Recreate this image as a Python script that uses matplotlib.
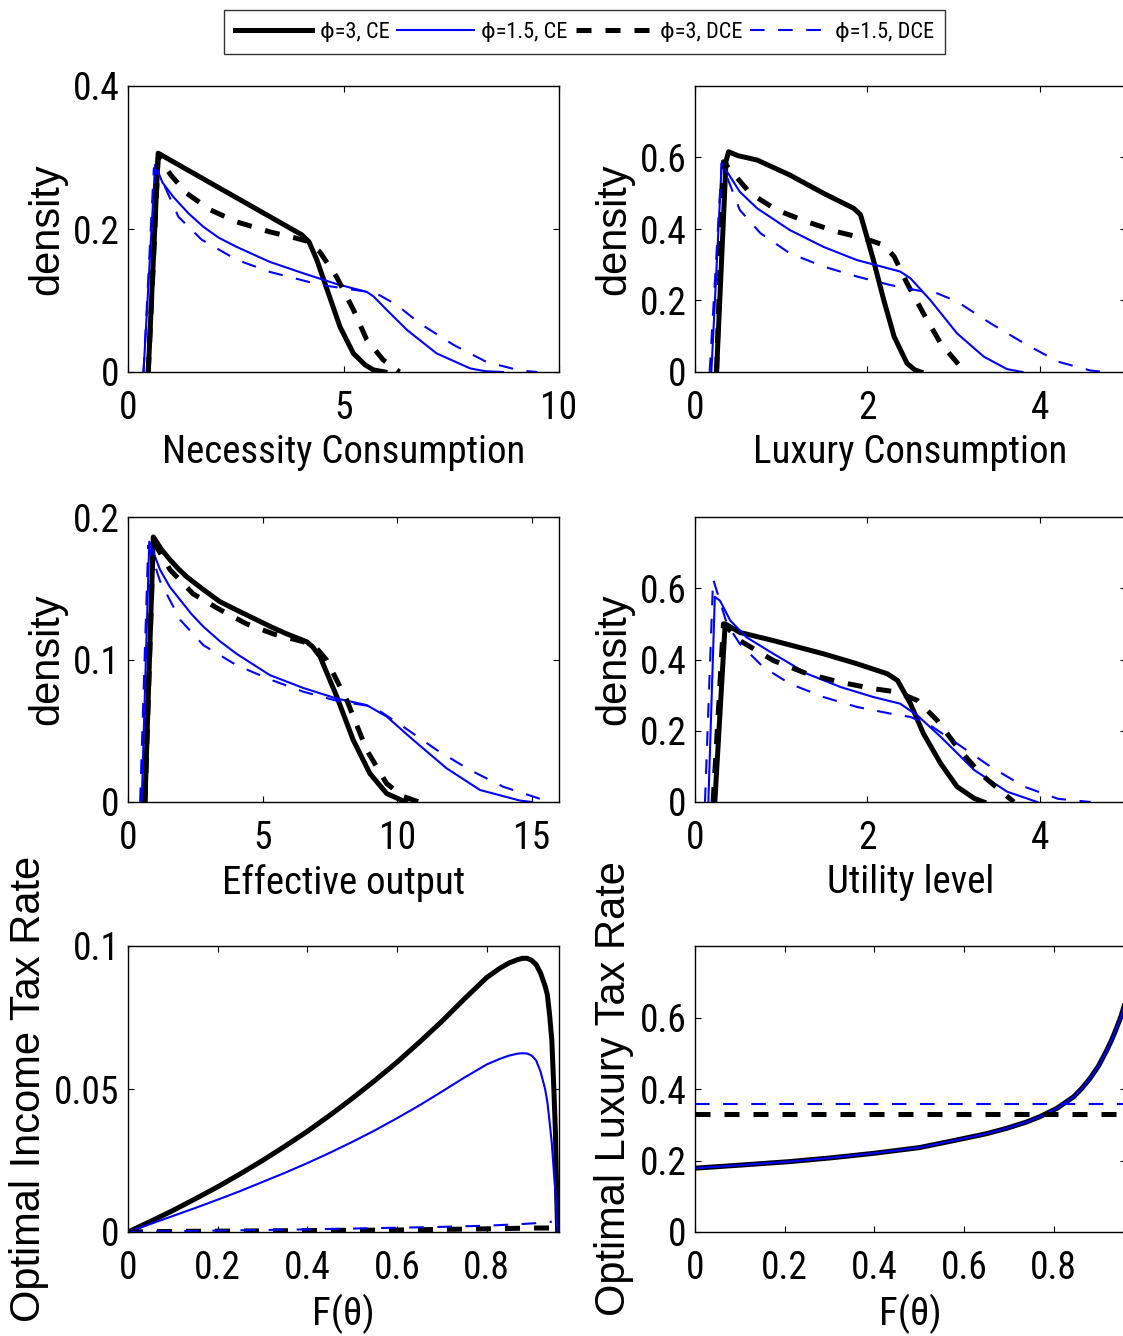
import matplotlib
matplotlib.use("Agg")
import matplotlib.pyplot as plt
from matplotlib.lines import Line2D
from matplotlib import font_manager as fm

_avail = set(f.name for f in fm.fontManager.ttflist)
_cands = ['Liberation Sans Narrow', 'Nimbus Sans Narrow', 'Arial Narrow', 'Roboto Condensed',
          'PT Sans Narrow', 'Archivo Narrow', 'Sofia Sans Semi Condensed', 'Open Sans Condensed',
          'Liberation Sans', 'DejaVu Sans']
FONT = next(c for c in _cands if c in _avail)
FAMILY = [FONT, 'DejaVu Sans']
FAMILY_Y = ['Liberation Sans', 'DejaVu Sans']
plt.rcParams['font.family'] = FAMILY

# ---------------- data ----------------
series_labels = ["\u03d5=3, CE", "\u03d5=1.5, CE", "\u03d5=3, DCE", "\u03d5=1.5, DCE"]

# Necessity consumption densities
nc_ce3_x = [0.47, 0.70, 2.13, 4.03, 4.20, 4.38, 4.65, 4.92, 5.23, 5.50, 5.69, 5.96]
nc_ce3_y = [0.0, 0.306, 0.257, 0.192, 0.182, 0.157, 0.110, 0.063, 0.026, 0.010, 0.003, 0.0]
nc_ce15_x = [0.36, 0.63, 0.80, 1.05, 1.40, 1.75, 2.10, 2.52, 3.29, 4.07, 4.84, 5.54, 5.69, 6.00, 6.47, 7.16, 7.94, 8.30, 8.70]
nc_ce15_y = [0.0, 0.290, 0.265, 0.245, 0.222, 0.203, 0.188, 0.175, 0.154, 0.138, 0.123, 0.112, 0.106, 0.087, 0.059, 0.026, 0.005, 0.001, 0.0]
nc_dce3_x = [0.47, 0.70, 1.00, 1.36, 1.90, 2.52, 3.29, 3.91, 4.15, 4.45, 4.84, 5.23, 5.54, 5.92, 6.19, 6.30]
nc_dce3_y = [0.0, 0.300, 0.275, 0.250, 0.227, 0.210, 0.196, 0.187, 0.183, 0.168, 0.133, 0.087, 0.045, 0.017, 0.005, 0.0]
nc_dce15_x = [0.36, 0.60, 0.82, 1.17, 1.71, 2.52, 3.29, 4.45, 5.23, 5.73, 6.23, 6.77, 7.55, 8.32, 9.10, 9.50]
nc_dce15_y = [0.0, 0.285, 0.264, 0.217, 0.185, 0.157, 0.140, 0.122, 0.115, 0.111, 0.094, 0.068, 0.038, 0.014, 0.002, 0.0]

# Luxury consumption densities
lx_ce3_x = [0.25, 0.36, 0.39, 0.50, 0.72, 1.10, 1.49, 1.84, 1.92, 1.96, 2.07, 2.19, 2.31, 2.46, 2.55, 2.62]
lx_ce3_y = [0.0, 0.590, 0.616, 0.605, 0.593, 0.551, 0.500, 0.458, 0.440, 0.407, 0.313, 0.201, 0.099, 0.024, 0.006, 0.0]
lx_ce15_x = [0.19, 0.31, 0.52, 0.72, 1.10, 1.49, 1.88, 2.38, 2.50, 2.73, 3.04, 3.35, 3.62, 3.80]
lx_ce15_y = [0.0, 0.584, 0.504, 0.458, 0.397, 0.350, 0.313, 0.281, 0.262, 0.201, 0.108, 0.043, 0.008, 0.0]
lx_dce3_x = [0.25, 0.33, 0.64, 0.95, 1.30, 1.65, 1.96, 2.19, 2.31, 2.46, 2.65, 2.85, 3.08, 3.15]
lx_dce3_y = [0.0, 0.588, 0.500, 0.453, 0.420, 0.392, 0.374, 0.355, 0.323, 0.248, 0.164, 0.080, 0.015, 0.0]
lx_dce15_x = [0.17, 0.31, 0.52, 0.76, 1.10, 1.49, 1.88, 2.27, 2.65, 2.81, 3.04, 3.43, 3.82, 4.21, 4.59, 4.75]
lx_dce15_y = [0.0, 0.584, 0.453, 0.388, 0.332, 0.295, 0.267, 0.243, 0.225, 0.220, 0.197, 0.136, 0.080, 0.029, 0.004, 0.0]

# Effective output densities
eo_ce3_x = [0.63, 0.94, 1.25, 1.56, 1.85, 2.18, 2.80, 3.41, 4.00, 4.65, 5.30, 5.89, 6.63, 6.85, 7.13, 7.75, 8.36, 8.98, 9.60, 10.30]
eo_ce3_y = [0.0, 0.186, 0.177, 0.170, 0.164, 0.158, 0.149, 0.1406, 0.135, 0.129, 0.123, 0.118, 0.1125, 0.109, 0.102, 0.074, 0.0435, 0.020, 0.006, 0.0]
eo_ce15_x = [0.51, 0.79, 1.19, 1.55, 1.93, 2.35, 2.80, 3.40, 4.03, 5.27, 6.51, 7.75, 8.86, 9.60, 10.59, 11.83, 13.07, 14.55, 15.00]
eo_ce15_y = [0.0, 0.1827, 0.163, 0.151, 0.142, 0.132, 0.123, 0.113, 0.104, 0.089, 0.080, 0.0726, 0.068, 0.060, 0.0435, 0.0236, 0.0084, 0.001, 0.0]
eo_dce3_x = [0.63, 0.94, 1.56, 2.42, 3.41, 4.40, 5.39, 6.51, 7.00, 7.37, 8.12, 8.86, 9.60, 10.20, 10.80]
eo_dce3_y = [0.0, 0.183, 0.163, 0.146, 0.135, 0.125, 0.118, 0.1125, 0.108, 0.0997, 0.0716, 0.0365, 0.013, 0.004, 0.0]
eo_dce15_x = [0.45, 0.75, 1.19, 1.93, 2.80, 4.03, 5.27, 6.51, 7.75, 9.10, 10.22, 11.46, 12.69, 13.93, 15.66]
eo_dce15_y = [0.0, 0.180, 0.155, 0.128, 0.110, 0.096, 0.086, 0.0774, 0.071, 0.0669, 0.0528, 0.0365, 0.0225, 0.0107, 0.0]

# Utility level densities
ut_ce3_x = [0.23, 0.35, 0.52, 0.91, 1.49, 1.88, 2.23, 2.35, 2.50, 2.65, 2.85, 3.04, 3.24, 3.35]
ut_ce3_y = [0.0, 0.500, 0.476, 0.453, 0.416, 0.388, 0.360, 0.341, 0.276, 0.192, 0.108, 0.043, 0.010, 0.0]
ut_ce15_x = [0.155, 0.23, 0.29, 0.41, 0.60, 0.91, 1.30, 1.69, 2.07, 2.38, 2.58, 2.85, 3.24, 3.62, 3.97]
ut_ce15_y = [0.0, 0.576, 0.565, 0.509, 0.462, 0.416, 0.360, 0.3226, 0.2946, 0.276, 0.243, 0.183, 0.0895, 0.029, 0.0]
ut_dce3_x = [0.21, 0.33, 0.52, 0.91, 1.30, 1.69, 2.07, 2.35, 2.58, 2.81, 3.04, 3.31, 3.58, 3.70]
ut_dce3_y = [0.0, 0.500, 0.453, 0.397, 0.360, 0.336, 0.318, 0.3086, 0.285, 0.229, 0.155, 0.080, 0.024, 0.0]
ut_dce15_x = [0.116, 0.21, 0.37, 0.52, 0.79, 1.10, 1.49, 1.88, 2.27, 2.50, 2.73, 3.04, 3.43, 3.82, 4.21, 4.59]
ut_dce15_y = [0.0, 0.626, 0.500, 0.444, 0.379, 0.332, 0.2946, 0.2667, 0.248, 0.2386, 0.215, 0.164, 0.0988, 0.043, 0.009, 0.0]

# Optimal income tax rate vs F(theta)
it_F = [0.0, 0.05, 0.1, 0.15, 0.2, 0.25, 0.3, 0.35, 0.4, 0.45, 0.5, 0.55, 0.6, 0.65, 0.7, 0.75,
        0.8, 0.83, 0.85, 0.87, 0.88, 0.89, 0.90, 0.91, 0.92, 0.93, 0.935, 0.94, 0.945, 0.95, 0.953, 0.956, 0.958]
it_ce3 = [0.0, 0.0037, 0.0075, 0.0116, 0.0158, 0.0203, 0.0250, 0.0300, 0.0352, 0.0408, 0.0467, 0.0529,
          0.0594, 0.0664, 0.0737, 0.0815, 0.0890, 0.0923, 0.0941, 0.0953, 0.0957, 0.0957, 0.0950, 0.0935,
          0.0905, 0.0860, 0.0830, 0.0760, 0.0670, 0.0480, 0.0350, 0.0120, 0.0]
it_ce15 = [0.0, 0.0028, 0.0056, 0.0084, 0.0113, 0.0143, 0.0175, 0.0207, 0.0241, 0.0277, 0.0315, 0.0355,
           0.0398, 0.0443, 0.0491, 0.0540, 0.0586, 0.0606, 0.0617, 0.0624, 0.0625, 0.0624, 0.0617, 0.0600,
           0.0560, 0.0500, 0.0455, 0.0385, 0.0310, 0.0200, 0.0140, 0.0050, 0.0]
it_dF = [0.0, 0.1, 0.2, 0.3, 0.4, 0.5, 0.6, 0.7, 0.75, 0.8, 0.84, 0.87, 0.89, 0.91, 0.925, 0.935, 0.945]
it_dce3 = [0.0, 0.0002, 0.0003, 0.0004, 0.0005, 0.0006, 0.0007, 0.0009, 0.0010, 0.0011, 0.0012, 0.0013, 0.0013, 0.0014, 0.0014, 0.0014, 0.0014]
it_dce15 = [0.0, 0.0003, 0.0005, 0.0007, 0.0009, 0.0012, 0.0015, 0.0018, 0.0020, 0.0022, 0.0025, 0.0027, 0.0029, 0.0031, 0.0033, 0.0034, 0.0036]

# Optimal luxury tax rate vs F(theta)
lt_F = [0.0, 0.1, 0.212, 0.3, 0.398, 0.5, 0.584, 0.65, 0.695, 0.74, 0.769, 0.807, 0.844, 0.862,
        0.881, 0.90, 0.918, 0.93, 0.941, 0.95, 0.956, 0.961]
lt_ce3 = [0.1785, 0.187, 0.197, 0.207, 0.220, 0.236, 0.2575, 0.275, 0.290, 0.308, 0.3225, 0.346, 0.378,
          0.401, 0.430, 0.465, 0.508, 0.540, 0.574, 0.604, 0.629, 0.655]
lt_ce15 = [0.1785, 0.187, 0.197, 0.207, 0.220, 0.236, 0.2575, 0.275, 0.290, 0.308, 0.3225, 0.346, 0.378,
           0.401, 0.430, 0.465, 0.508, 0.540, 0.574, 0.604, 0.629, 0.655]
lt_dF = [0.0, 0.962]
lt_dce3 = [0.330, 0.330]
lt_dce15 = [0.357, 0.357]

# ---------------- plotting ----------------
W, H = 1123, 1336
fig = plt.figure(figsize=(W / 100, H / 100), dpi=100)

def px_axes(left, top, right, bottom):
    return fig.add_axes([left / W, 1 - bottom / H, (right - left) / W, (bottom - top) / H])

styles = [
    dict(color='black', lw=3.6, ls='-'),
    dict(color='#0000ff', lw=1.5, ls='-'),
    dict(color='black', lw=3.6, ls=(0, (3.0, 2.8))),
    dict(color='#0000ff', lw=1.5, ls=(0, (7.0, 6.5))),
]

TICK_FS = 27
XLAB_FS = 28
YLAB_FS = 30

def fmt(v):
    return '%g' % v

def style_axes(ax, xlim, ylim, xticks, yticks, xlabel, ylabel):
    ax.set_xlim(*xlim)
    ax.set_ylim(*ylim)
    ax.set_xticks(xticks)
    ax.set_yticks(yticks)
    ax.set_xticklabels([fmt(v) for v in xticks])
    ax.set_yticklabels([fmt(v) for v in yticks])
    ax.tick_params(direction='in', length=4, width=0.8, top=True, right=True,
                   labelsize=TICK_FS)
    ax.tick_params(axis='x', pad=13)
    ax.tick_params(axis='y', pad=6)
    for sp in ax.spines.values():
        sp.set_linewidth(1.0)
    ax.set_xlabel(xlabel, fontsize=XLAB_FS, labelpad=5)
    ax.set_ylabel(ylabel, fontsize=YLAB_FS, labelpad=4, family=FAMILY_Y)

def draw(ax, xs, ys):
    for x, y, st in zip(xs, ys, styles):
        ax.plot(x, y, color=st['color'], lw=st['lw'], linestyle=st['ls'],
                solid_joinstyle='round', dash_capstyle='butt')

L, R = 128, 559
L2, R2 = 695, 1126
rows = [(86, 372), (517, 802), (946, 1232)]

ax1 = px_axes(L, rows[0][0], R, rows[0][1])
draw(ax1, [nc_ce3_x, nc_ce15_x, nc_dce3_x, nc_dce15_x], [nc_ce3_y, nc_ce15_y, nc_dce3_y, nc_dce15_y])
style_axes(ax1, (0, 10), (0, 0.4), [0, 5, 10], [0, 0.2, 0.4], 'Necessity Consumption', 'density')

ax2 = px_axes(L2, rows[0][0], R2, rows[0][1])
draw(ax2, [lx_ce3_x, lx_ce15_x, lx_dce3_x, lx_dce15_x], [lx_ce3_y, lx_ce15_y, lx_dce3_y, lx_dce15_y])
style_axes(ax2, (0, 5), (0, 0.8), [0, 2, 4], [0, 0.2, 0.4, 0.6], 'Luxury Consumption', 'density')

ax3 = px_axes(L, rows[1][0], R, rows[1][1])
draw(ax3, [eo_ce3_x, eo_ce15_x, eo_dce3_x, eo_dce15_x], [eo_ce3_y, eo_ce15_y, eo_dce3_y, eo_dce15_y])
style_axes(ax3, (0, 16), (0, 0.2), [0, 5, 10, 15], [0, 0.1, 0.2], 'Effective output', 'density')

ax4 = px_axes(L2, rows[1][0], R2, rows[1][1])
draw(ax4, [ut_ce3_x, ut_ce15_x, ut_dce3_x, ut_dce15_x], [ut_ce3_y, ut_ce15_y, ut_dce3_y, ut_dce15_y])
style_axes(ax4, (0, 5), (0, 0.8), [0, 2, 4], [0, 0.2, 0.4, 0.6], 'Utility level', 'density')

ax5 = px_axes(L, rows[2][0], R, rows[2][1])
draw(ax5, [it_F, it_F, it_dF, it_dF], [it_ce3, it_ce15, it_dce3, it_dce15])
style_axes(ax5, (0, 0.961), (0, 0.1), [0, 0.2, 0.4, 0.6, 0.8], [0, 0.05, 0.1],
           'F(\u03b8)', 'Optimal Income Tax Rate')

ax6 = px_axes(L2, rows[2][0], R2, rows[2][1])
draw(ax6, [lt_F, lt_F, lt_dF, lt_dF], [lt_ce3, lt_ce15, lt_dce3, lt_dce15])
style_axes(ax6, (0, 0.961), (0, 0.8), [0, 0.2, 0.4, 0.6, 0.8], [0, 0.2, 0.4, 0.6],
           'F(\u03b8)', 'Optimal Luxury Tax Rate')

handles = [Line2D([], [], color=st['color'], lw=st['lw'], linestyle=st['ls'], dash_capstyle='butt')
           for st in styles]
leg = fig.legend(handles, series_labels, loc='center', ncol=4,
                 bbox_to_anchor=(584.5 / W, 1 - 32 / H), frameon=True, fancybox=False,
                 edgecolor='black', handlelength=3.45, handletextpad=0.35,
                 columnspacing=0.35, borderpad=0.5, borderaxespad=0,
                 prop={'family': FAMILY, 'size': 16})
leg.get_frame().set_linewidth(1.0)

fig.savefig('out.png', dpi=100)
